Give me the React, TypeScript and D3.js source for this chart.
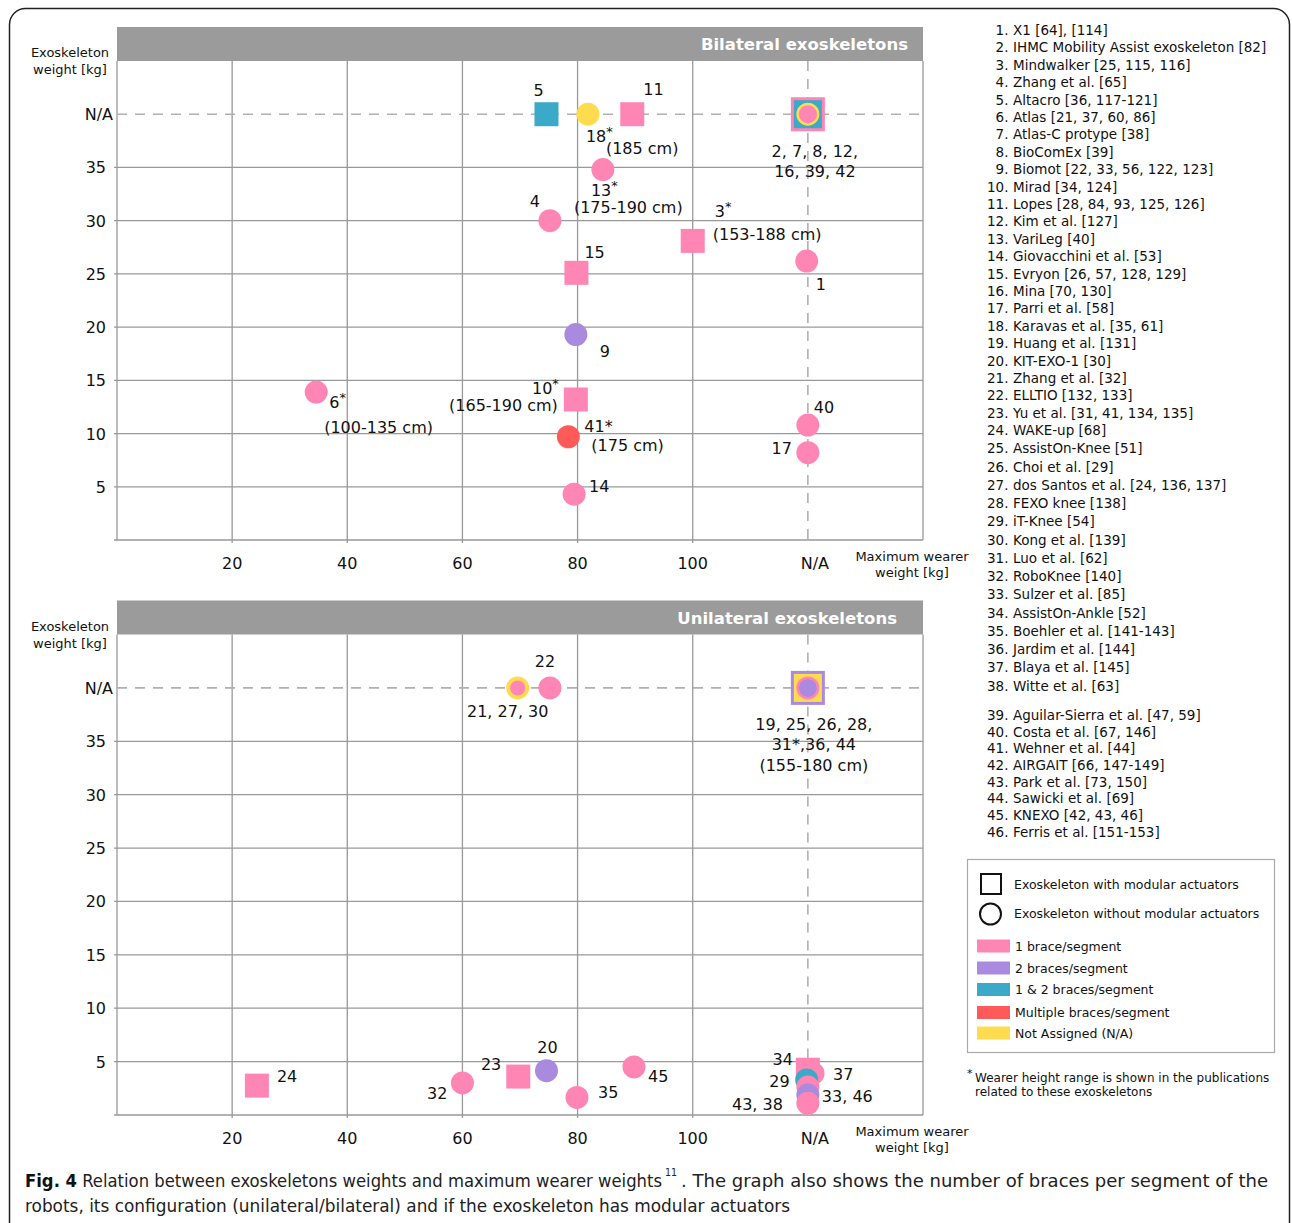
import * as d3 from "d3";

// "N/A" values are placed one step past the last tick on each axis
const NA = 120; // wearer weight not reported
const NA_KG = 40; // exoskeleton weight not reported

const xTicks = [20, 40, 60, 80, 100];
const yTicks = [5, 10, 15, 20, 25, 30, 35];

const braceCategories = ["one", "two", "oneTwo", "multiple", "na"];
const braceNames = [
  "1 brace/segment",
  "2 braces/segment",
  "1 & 2 braces/segment",
  "Multiple braces/segment",
  "Not Assigned (N/A)",
];
const braceColors = ["#ff85b5", "#a98adf", "#3aaac8", "#ff5a5a", "#ffdb50"];

// Bilateral exoskeletons ("|" = new line, "^" = raised asterisk)
const biLabels = [
  "1",
  "2, 7, 8, 12,|16, 39, 42",
  "3^|(153-188 cm)",
  "4",
  "5",
  "6^|(100-135 cm)",
  "9",
  "10^|(165-190 cm)",
  "11",
  "13^|(175-190 cm)",
  "14",
  "15",
  "17",
  "18^|(185 cm)",
  "40",
  "41*|(175 cm)",
];
const biWearer = [NA - 0.2, NA, 100, 75.2, 74.6, 34.6, 79.7, 79.7, 89.5, 84.4, 79.4, 79.8, NA, 81.8, NA, 78.4];
const biWeight = [26.2, NA_KG, 28.1, 30, NA_KG, 13.9, 19.3, 13.2, NA_KG, 34.8, 4.3, 25.1, 8.2, NA_KG, 10.8, 9.7];
const biShape = [
  "circle", "group", "square", "circle", "square", "circle", "circle", "square",
  "square", "circle", "circle", "square", "circle", "circle", "circle", "circle",
];
const biBraces = [
  "one", "one|oneTwo|na|one", "one", "one", "oneTwo", "one", "two", "one",
  "one", "one", "one", "one", "one", "na", "one", "multiple",
];

// Unilateral exoskeletons
const uniLabels = [
  "21, 27, 30",
  "22",
  "19, 25, 26, 28,|31*,36, 44|(155-180 cm)",
  "24",
  "32",
  "23",
  "20",
  "35",
  "45",
  "34",
  "37",
  "29",
  "",
  "33, 46",
  "43, 38",
];
const uniWearer = [69.6, 75.2, NA, 24.3, 60, 69.7, 74.6, 79.9, 89.8, NA, NA + 0.9, NA - 0.2, NA, NA, NA];
const uniWeight = [NA_KG, NA_KG, NA_KG, 2.75, 3.0, 3.6, 4.15, 1.65, 4.5, 4.24, 3.9, 3.28, 2.62, 1.87, 1.1];
const uniShape = [
  "ring", "circle", "group", "square", "circle", "square", "circle", "circle",
  "circle", "square", "circle", "circle", "circle", "circle", "circle",
];
const uniBraces = [
  "na|one", "one", "two|na|one|two", "one", "one", "one", "two", "one",
  "one", "one", "one", "oneTwo", "one", "two", "one",
];

const references = [
  "X1 [64], [114]",
  "IHMC Mobility Assist exoskeleton [82]",
  "Mindwalker [25, 115, 116]",
  "Zhang et al. [65]",
  "Altacro [36, 117-121]",
  "Atlas [21, 37, 60, 86]",
  "Atlas-C protype [38]",
  "BioComEx [39]",
  "Biomot [22, 33, 56, 122, 123]",
  "Mirad [34, 124]",
  "Lopes [28, 84, 93, 125, 126]",
  "Kim et al. [127]",
  "VariLeg [40]",
  "Giovacchini et al. [53]",
  "Evryon [26, 57, 128, 129]",
  "Mina [70, 130]",
  "Parri et al. [58]",
  "Karavas et al. [35, 61]",
  "Huang et al. [131]",
  "KIT-EXO-1 [30]",
  "Zhang et al. [32]",
  "ELLTIO [132, 133]",
  "Yu et al. [31, 41, 134, 135]",
  "WAKE-up [68]",
  "AssistOn-Knee [51]",
  "Choi et al. [29]",
  "dos Santos et al. [24, 136, 137]",
  "FEXO knee [138]",
  "iT-Knee [54]",
  "Kong et al. [139]",
  "Luo et al. [62]",
  "RoboKnee [140]",
  "Sulzer et al. [85]",
  "AssistOn-Ankle [52]",
  "Boehler et al. [141-143]",
  "Jardim et al. [144]",
  "Blaya et al. [145]",
  "Witte et al. [63]",
  "Aguilar-Sierra et al. [47, 59]",
  "Costa et al. [67, 146]",
  "Wehner et al. [44]",
  "AIRGAIT [66, 147-149]",
  "Park et al. [73, 150]",
  "Sawicki et al. [69]",
  "KNEXO [42, 43, 46]",
  "Ferris et al. [151-153]",
];

// label placement relative to the marker: [dx, dy, anchor] per line
type Place = [number, number, string];
const biPlace: Place[][] = [
  [[9, 29, "start"]],
  [[7, 43, "middle"], [7, 63, "middle"]],
  [[22, -24, "start"], [20, -1, "start"]],
  [[-15, -14, "middle"]],
  [[-8, -18, "middle"]],
  [[13, 16, "start"], [8, 41, "start"]],
  [[29, 22, "middle"]],
  [[-17, -5, "end"], [-18, 12, "end"]],
  [[11, -19, "start"]],
  [[-12, 26, "start"], [-29, 43, "start"]],
  [[15, -2, "start"]],
  [[8, -15, "start"]],
  [[-16, 1, "end"]],
  [[-2, 28, "start"], [18, 40, "start"]],
  [[6, -12, "start"]],
  [[16, -5, "start"], [23, 14, "start"]],
];
const uniPlace: Place[][] = [
  [[-10, 29, "middle"]],
  [[-5, -21, "middle"]],
  [[6, 42, "middle"], [6, 62, "middle"], [6, 83, "middle"]],
  [[20, -4, "start"]],
  [[-15, 16, "end"]],
  [[-17, -7, "end"]],
  [[1, -18, "middle"]],
  [[21, 1, "start"]],
  [[14, 15, "start"]],
  [[-15, -5, "end"]],
  [[20, 7, "start"]],
  [[-17, 7, "end"]],
  [],
  [[14, 7, "start"]],
  [[-25, 7, "end"]],
];

const FONT = "'DejaVu Sans', Verdana, sans-serif";
const GRID = "#999";

const color = d3.scaleOrdinal<string, string>().domain(braceCategories).range(braceColors);
const x = d3.scaleLinear().domain([0, 140]).range([117, 923]);

function LabelLine({ text, px, py, anchor }: { text: string; px: number; py: number; anchor: string }) {
  const raised = text.endsWith("^");
  const body = raised ? text.slice(0, -1) : text;
  return (
    <text x={px} y={py} textAnchor={anchor} fontSize={16} fill="#111">
      {body}
      {raised && (
        <tspan dy={-6} fontSize={13}>
          *
        </tspan>
      )}
    </text>
  );
}

function Marker({ shape, braces, cx, cy }: { shape: string; braces: string; cx: number; cy: number }) {
  const layers = braces.split("|").map((b) => color(b));
  if (shape === "square")
    return <rect x={cx - 12} y={cy - 12} width={24} height={24} fill={layers[0]} />;
  if (shape === "ring")
    return (
      <g>
        <circle cx={cx} cy={cy} r={11.5} fill={layers[0]} />
        <circle cx={cx} cy={cy} r={7.5} fill={layers[1]} />
      </g>
    );
  if (shape === "group")
    return (
      <g>
        <rect x={cx - 17} y={cy - 17} width={34} height={34} fill={layers[0]} />
        <rect x={cx - 14} y={cy - 14} width={28} height={28} fill={layers[1]} />
        <circle cx={cx} cy={cy} r={11.5} fill={layers[2]} />
        <circle cx={cx} cy={cy} r={9} fill={layers[3]} />
      </g>
    );
  return <circle cx={cx} cy={cy} r={11.5} fill={layers[0]} />;
}

function Panel({
  top,
  bottom,
  title,
  titleRight,
  labels,
  wearer,
  weight,
  shapes,
  braces,
  place,
}: {
  top: number;
  bottom: number;
  title: string;
  titleRight: number;
  labels: string[];
  wearer: number[];
  weight: number[];
  shapes: string[];
  braces: string[];
  place: Place[][];
}) {
  const y = d3.scaleLinear().domain([0, 45]).range([bottom, top]);
  const [x0, x1] = x.range();
  return (
    <g fontFamily={FONT}>
      {/* header */}
      <rect x={x0} y={top - 34} width={x1 - x0} height={34} fill="#9b9b9b" />
      <text x={titleRight} y={top - 11} textAnchor="end" fill="#fff" fontWeight="bold" fontSize={16.5}>
        {title}
      </text>

      {/* grid */}
      {[0, ...xTicks, 140].map((t) => (
        <line key={"vx" + t} x1={x(t)} x2={x(t)} y1={top} y2={bottom + (t > 0 && t < 140 ? 3 : 0)} stroke={GRID} strokeWidth={1.3} />
      ))}
      {[0, ...yTicks].map((t) => (
        <line key={"hy" + t} x1={x0 - 3} x2={x1} y1={y(t)} y2={y(t)} stroke={GRID} strokeWidth={1.3} />
      ))}
      <line x1={x0} x2={x1} y1={y(NA_KG)} y2={y(NA_KG)} stroke="#b0b0b0" strokeWidth={1.6} strokeDasharray="10 8" />
      <line x1={x(NA)} x2={x(NA)} y1={top} y2={bottom} stroke="#b0b0b0" strokeWidth={1.6} strokeDasharray="10 8" />

      {/* y axis */}
      {yTicks.map((t) => (
        <text key={"yl" + t} x={106} y={y(t) + 6} textAnchor="end" fontSize={16} fill="#111">
          {t}
        </text>
      ))}
      <text x={113} y={y(NA_KG) + 6} textAnchor="end" fontSize={16} fill="#111">
        N/A
      </text>
      <text x={70} y={top - 4} textAnchor="middle" fontSize={13} fill="#111">
        Exoskeleton
      </text>
      <text x={70} y={top + 13} textAnchor="middle" fontSize={13} fill="#111">
        weight [kg]
      </text>

      {/* x axis */}
      {xTicks.map((t) => (
        <text key={"xl" + t} x={x(t)} y={bottom + 29} textAnchor="middle" fontSize={16} fill="#111">
          {t}
        </text>
      ))}
      <text x={x(NA) + 7} y={bottom + 29} textAnchor="middle" fontSize={16} fill="#111">
        N/A
      </text>
      <text x={912} y={bottom + 21} textAnchor="middle" fontSize={13} fill="#111">
        Maximum wearer
      </text>
      <text x={912} y={bottom + 37} textAnchor="middle" fontSize={13} fill="#111">
        weight [kg]
      </text>

      {/* markers */}
      {labels.map((_, i) => (
        <Marker key={"m" + i} shape={shapes[i]} braces={braces[i]} cx={x(wearer[i])} cy={y(weight[i])} />
      ))}

      {/* labels */}
      {labels.map((lab, i) =>
        lab
          .split("|")
          .filter((l) => l.length > 0)
          .map((line, j) => {
            const [dx, dy, anchor] = place[i][j];
            return (
              <LabelLine
                key={"l" + i + "-" + j}
                text={line}
                px={x(wearer[i]) + dx}
                py={y(weight[i]) + dy}
                anchor={anchor}
              />
            );
          })
      )}
    </g>
  );
}

// reference list: three blocks with their own line spacing
const refBlocks = [
  { from: 0, to: 23, y0: 35, step: 17.4 },
  { from: 23, to: 38, y0: 435, step: 18.26 },
  { from: 38, to: 46, y0: 720, step: 16.67 },
];

function refY(i: number) {
  const b = refBlocks.find((blk) => i >= blk.from && i < blk.to)!;
  return b.y0 + (i - b.from) * b.step;
}

export default function App() {
  return (
    <svg
      width={1292}
      height={1223}
      style={{ position: "absolute", left: 0, top: 0, background: "#fff" }}
      fontFamily={FONT}
    >
      <rect x={9.5} y={8.5} width={1280} height={1250} rx={16} fill="none" stroke="#222" strokeWidth={1.5} />

      <Panel
        top={61}
        bottom={540}
        title="Bilateral exoskeletons"
        titleRight={908}
        labels={biLabels}
        wearer={biWearer}
        weight={biWeight}
        shapes={biShape}
        braces={biBraces}
        place={biPlace}
      />
      <Panel
        top={634.5}
        bottom={1115}
        title="Unilateral exoskeletons"
        titleRight={897}
        labels={uniLabels}
        wearer={uniWearer}
        weight={uniWeight}
        shapes={uniShape}
        braces={uniBraces}
        place={uniPlace}
      />

      {/* numbered references */}
      <g fontSize={13.5} fill="#111">
        {references.map((name, i) => (
          <g key={"r" + i}>
            <text x={1008.5} y={refY(i)} textAnchor="end">
              {i + 1}.
            </text>
            <text x={1013} y={refY(i)}>
              {name}
            </text>
          </g>
        ))}
      </g>

      {/* legend */}
      <g fontSize={12.5} fill="#111">
        <rect x={967.5} y={859.5} width={307} height={193} fill="none" stroke="#aaa" strokeWidth={1.2} />
        <rect x={981} y={874} width={20} height={20} fill="none" stroke="#111" strokeWidth={2} />
        <text x={1014} y={889}>
          Exoskeleton with modular actuators
        </text>
        <circle cx={990.5} cy={914} r={10.5} fill="none" stroke="#111" strokeWidth={2} />
        <text x={1014} y={918}>
          Exoskeleton without modular actuators
        </text>
        {braceNames.map((name, i) => {
          const rowY = [946, 968, 989.5, 1012.5, 1033][i];
          return (
            <g key={"b" + i}>
              <rect x={977} y={rowY - 6.5} width={33} height={13} fill={color(braceCategories[i])} />
              <text x={1015} y={rowY + 4.5}>
                {name}
              </text>
            </g>
          );
        })}
      </g>

      <g fontSize={12} fill="#111">
        <text x={967} y={1077} fontSize={11}>
          *
        </text>
        <text x={975} y={1082}>
          Wearer height range is shown in the publications
        </text>
        <text x={975} y={1096}>
          related to these exoskeletons
        </text>
      </g>

      {/* caption */}
      <g fontFamily="'Liberation Sans Narrow', 'DejaVu Sans Condensed', sans-serif" fontSize={18} fill="#222">
        <text x={25} y={1187} textLength={637} lengthAdjust="spacingAndGlyphs">
          <tspan fontWeight="bold" fill="#111">
            Fig. 4
          </tspan>
          <tspan> Relation between exoskeletons weights and maximum wearer weights</tspan>
        </text>
        <text x={665} y={1176} fontSize={10.5}>
          11
        </text>
        <text x={681} y={1187} textLength={587} lengthAdjust="spacingAndGlyphs">
          . The graph also shows the number of braces per segment of the
        </text>
        <text x={25} y={1212} textLength={765} lengthAdjust="spacingAndGlyphs">
          robots, its configuration (unilateral/bilateral) and if the exoskeleton has modular actuators
        </text>
      </g>
    </svg>
  );
}
